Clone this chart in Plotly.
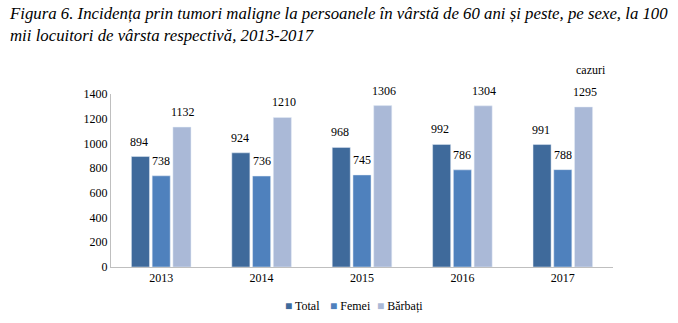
import plotly.graph_objects as go

years = ["2013", "2014", "2015", "2016", "2017"]
total = [894, 924, 968, 992, 991]
femei = [738, 736, 745, 786, 788]
barbati = [1132, 1210, 1306, 1304, 1295]
series_names = ["Total", "Femei", "Bărbați"]
colors = ["#3F6A9B", "#4F81BD", "#AAB9D7"]
title_text = ("<i>Figura 6. Incidența prin tumori maligne la persoanele în vârstă de 60 ani și peste, pe sexe, la 100"
              "<br>mii locuitori de vârsta respectivă, 2013-2017</i>")

FONT = "Times New Roman, Liberation Serif, DejaVu Serif, serif"
L, R, T, B = 111, 65, 94, 56
PW, PH = 678 - L - R, 323 - T - B

fig = go.Figure()
for name, vals, col in zip(series_names, [total, femei, barbati], colors):
    fig.add_trace(go.Bar(
        x=years, y=vals, name=name, marker_color=col, showlegend=False,
    ))

fig.update_layout(
    width=678, height=323,
    margin=dict(l=L, r=R, t=T, b=B, autoexpand=False),
    paper_bgcolor="white", plot_bgcolor="white",
    font=dict(family=FONT, size=12, color="#000000"),
    barmode="group", bargap=0.38, bargroupgap=0.13,
    xaxis=dict(type="category", range=[-0.5, len(years) - 0.5], showline=True,
               linecolor="#BFBFBF", linewidth=1, ticks="",
               showgrid=False, tickfont=dict(family=FONT, size=12)),
    yaxis=dict(range=[0, 1400], dtick=200, showline=True, linecolor="#BFBFBF",
               linewidth=1, showgrid=False, ticks="", tickfont=dict(family=FONT, size=12)),
    showlegend=False,
)

# data labels
shifts = [-22, 0, 22]
for vals, dx in zip([total, femei, barbati], shifts):
    for i, v in enumerate(vals):
        fig.add_annotation(text=str(v), x=i, y=v, xshift=dx, yshift=6,
                           xanchor="center", yanchor="bottom", showarrow=False,
                           font=dict(family=FONT, size=12, color="#000000"))

# title
fig.add_annotation(text=title_text, xref="paper", yref="paper",
                   x=(7 - L) / PW, y=1 + (T - 2) / PH, xanchor="left", yanchor="top",
                   align="left", showarrow=False,
                   font=dict(family=FONT, size=16.8, color="#000000"))
# unit label
fig.add_annotation(text="cazuri", xref="paper", yref="paper", x=(608 - L) / PW,
                   y=1 + (T - 70) / PH, xanchor="right", yanchor="middle",
                   showarrow=False, font=dict(family=FONT, size=12))

# legend (manual, compact like the reference)
leg_x = [283, 328, 375]
for name, col, lx in zip(series_names, colors, leg_x):
    fig.add_annotation(text=f"<span style='color:{col}'>■</span> {name}",
                       xref="paper", yref="paper", x=(lx - L) / PW,
                       y=-(306 - (323 - B)) / PH, xanchor="left", yanchor="middle",
                       showarrow=False, font=dict(family=FONT, size=12, color="#000000"))

fig.write_html("out.html")
